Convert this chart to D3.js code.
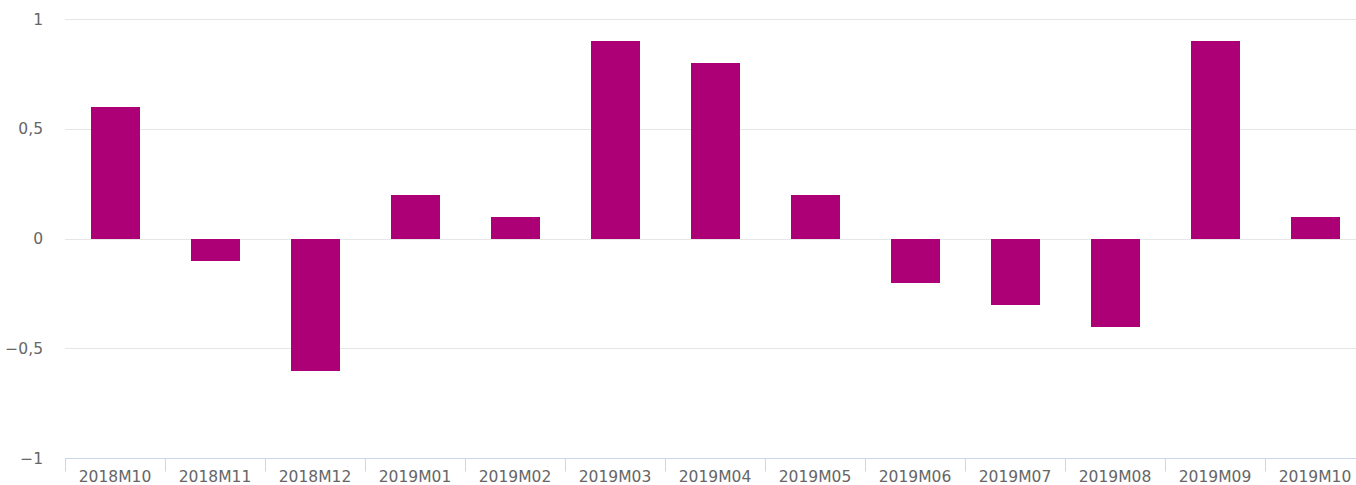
<!DOCTYPE html>
<html>
<head>
<meta charset="utf-8">
<script src="https://cdn.jsdelivr.net/npm/d3@7"></script>
<style>
  html, body { margin: 0; padding: 0; background: #fff; overflow: hidden; }
  svg { display: block; font-family: "DejaVu Sans", Verdana, sans-serif; }
  .tick-label { fill: #666; font-size: 15.5px; }
</style>
</head>
<body>
<div id="chart"></div>
<script>
// monthly change, one bar per month
const MONTHS = ["2018M10", "2018M11", "2018M12", "2019M01", "2019M02", "2019M03", "2019M04",
                "2019M05", "2019M06", "2019M07", "2019M08", "2019M09", "2019M10"];
const VALUES = [0.6, -0.1, -0.6, 0.2, 0.1, 0.9, 0.8, 0.2, -0.2, -0.3, -0.4, 0.9, 0.1];
const Y_TICKS = [-1, -0.5, 0, 0.5, 1];

const W = 1356, H = 485;
// plot runs a little past the right edge in the original, so the last band is clipped
const PLOT_LEFT = 65, PLOT_RIGHT = 1365;
const PLOT_TOP = 19.5, PLOT_BOTTOM = 458.5;
const BAR_COLOR = "#ad0077";

const svg = d3.select("#chart").append("svg")
  .attr("width", W).attr("height", H);

const x = d3.scaleBand()
  .domain(MONTHS)
  .range([PLOT_LEFT, PLOT_RIGHT])
  .paddingInner(0)
  .paddingOuter(0);

const y = d3.scaleLinear()
  .domain([-1, 1])
  .range([PLOT_BOTTOM, PLOT_TOP]);

const crisp = (v) => Math.floor(v) + 0.5;
const fmt = (d) => (d < 0 ? "\u2212" : "") + String(Math.abs(d)).replace(".", ",");

// gridlines (not at -1, the axis line sits there)
svg.append("g")
  .selectAll("line")
  .data(Y_TICKS.filter((d) => d !== -1))
  .join("line")
  .attr("x1", PLOT_LEFT).attr("x2", W)
  .attr("y1", (d) => crisp(y(d)))
  .attr("y2", (d) => crisp(y(d)))
  .attr("stroke", "#e6e6e6")
  .attr("stroke-width", 1);

// y labels
svg.append("g")
  .selectAll("text")
  .data(Y_TICKS)
  .join("text")
  .attr("class", "tick-label")
  .attr("x", 43)
  .attr("y", (d) => y(d) + 5)
  .attr("text-anchor", "end")
  .text(fmt);

// bars
const bw = 49;
svg.append("g")
  .selectAll("rect")
  .data(VALUES)
  .join("rect")
  .attr("x", (d, i) => Math.round(x(MONTHS[i]) + (x.bandwidth() - bw) / 2))
  .attr("width", bw)
  .attr("y", (d) => Math.round(Math.min(y(d), y(0))))
  .attr("height", (d) => Math.round(Math.abs(y(d) - y(0))))
  .attr("fill", BAR_COLOR);

// x axis line and ticks
const axisY = crisp(y(-1));
const axisG = svg.append("g");
axisG.append("line")
  .attr("x1", PLOT_LEFT).attr("x2", W)
  .attr("y1", axisY).attr("y2", axisY)
  .attr("stroke", "#ccd6eb");

axisG.selectAll("line.tk")
  .data(MONTHS.map((m) => x(m)))
  .join("line")
  .attr("class", "tk")
  .attr("x1", (d) => Math.round(d) + 0.5).attr("x2", (d) => Math.round(d) + 0.5)
  .attr("y1", axisY).attr("y2", axisY + 13)
  .attr("stroke", "#ccd6eb");

axisG.selectAll("text")
  .data(MONTHS)
  .join("text")
  .attr("class", "tick-label")
  .attr("x", (d) => x(d) + x.bandwidth() / 2)
  .attr("y", 482)
  .attr("text-anchor", "middle")
  .text((d) => d);
</script>
</body>
</html>
